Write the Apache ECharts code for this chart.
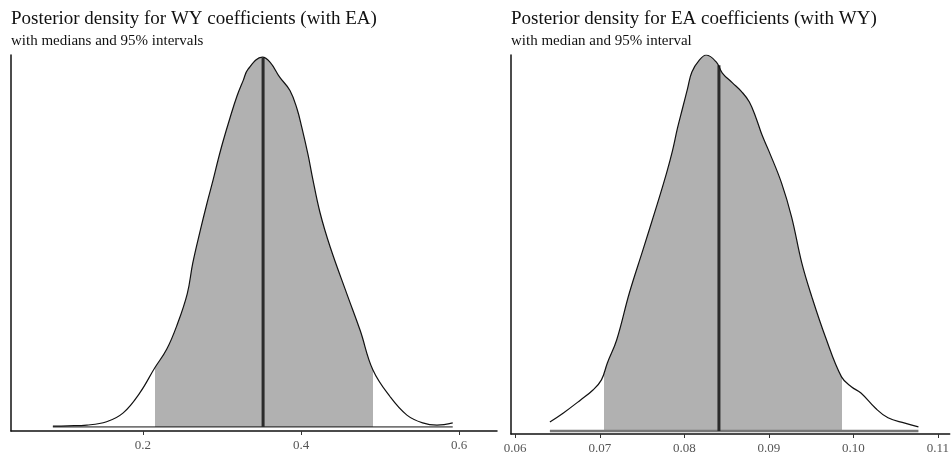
<!DOCTYPE html>
<html>
<head>
<meta charset="utf-8">
<title>Posterior densities</title>
<script src="https://cdn.jsdelivr.net/npm/echarts@6/dist/echarts.min.js"></script>
<style>
  html, body { margin: 0; padding: 0; background: #fff; }
  #chart { width: 952px; height: 457px; }
</style>
</head>
<body>
<div id="chart"></div>
<script>
// ==== DATA (relative density, peak = 100) ====
const wyX = [0.086, 0.105, 0.129, 0.154, 0.175, 0.196, 0.215, 0.230, 0.243, 0.256,
  0.263, 0.272, 0.281, 0.289, 0.295, 0.301, 0.310, 0.319, 0.327, 0.333, 0.351,
  0.361, 0.373, 0.386, 0.395, 0.401, 0.409, 0.414, 0.424, 0.437, 0.458, 0.475,
  0.491, 0.513, 0.534, 0.554, 0.572, 0.592];
const wyDensity = [0.2, 0.3, 0.5, 1.4, 3.8, 9.2, 16, 21, 27.5, 36,
  44.3, 52.7, 60.5, 67, 72.2, 77, 83.5, 89.5, 93.8, 96.8, 100,
  98.6, 94.6, 91, 86, 81, 73.5, 68, 58, 48.6, 36, 26,
  15.4, 8.1, 3.2, 1.1, 0.5, 1.1];
const wyInterval = [0.215, 0.491];
const wyMedian = 0.352;
const wyMedianTop = 99.8;
const wyTicks = [0.2, 0.4, 0.6];

const eaX = [0.0641, 0.0657, 0.0677, 0.0692, 0.0702, 0.0709, 0.0720, 0.0735, 0.0751,
  0.0767, 0.0779, 0.0786, 0.0792, 0.0798, 0.0804, 0.0809, 0.0818, 0.0826, 0.0838,
  0.0845, 0.0857, 0.0868, 0.0877, 0.0885, 0.0892, 0.0900, 0.0915, 0.0927, 0.0939,
  0.0951, 0.0967, 0.0986, 0.0998, 0.1009, 0.1026, 0.1041, 0.1061, 0.1077];
const eaDensity = [2.4, 4.8, 8.2, 10.9, 13.6, 18.1, 24.2, 36.7, 48.1,
  59.6, 68.6, 74.5, 80.6, 85.9, 91.2, 95.5, 98.7, 100, 98.1,
  95.2, 92.6, 90.2, 87.5, 83.2, 78.7, 74.5, 66.0, 56.9, 44.7,
  35.6, 25.0, 14.4, 11.7, 10.1, 6.1, 3.5, 2.1, 1.1];
const eaInterval = [0.0705, 0.0986];
const eaMedian = 0.0841;
const eaMedianTop = 97.3;
const eaTicks = [0.06, 0.07, 0.08, 0.09, 0.10, 0.11];

const titles = [
  { text: "Posterior density for WY coefficients (with EA)", sub: "with medians and 95% intervals" },
  { text: "Posterior density for EA coefficients (with WY)", sub: "with median and 95% interval" },
];

// ==== HELPERS ====
const FONT = "Liberation Serif";
const SHADE = "#b1b1b1";

function pairs(xs, ys) {
  return xs.map(function (x, i) {
    return [x, ys[i]];
  });
}

function xAxisFor(gridIndex, min, max, ticks, fmt) {
  return {
    type: "value",
    gridIndex: gridIndex,
    min: min,
    max: max,
    splitLine: { show: false },
    axisLine: { onZero: false, lineStyle: { color: "#111", width: 1.5 } },
    axisTick: { customValues: ticks, length: 4, lineStyle: { color: "#333" } },
    axisLabel: {
      customValues: ticks,
      formatter: fmt,
      fontFamily: FONT,
      fontSize: 13,
      color: "#555",
      margin: 8,
    },
  };
}

function yAxisFor(gridIndex, min, max) {
  return {
    type: "value",
    gridIndex: gridIndex,
    min: min,
    max: max,
    splitLine: { show: false },
    axisLine: { show: true, lineStyle: { color: "#111", width: 1.5 } },
    axisTick: { show: false },
    axisLabel: { show: false },
  };
}

function densitySeries(idx, xs, ys, med, medTop, baseColor, baseWidth) {
  const pts = pairs(xs, ys);
  const first = xs[0];
  const last = xs[xs.length - 1];
  return [
    {
      // shaded 95% interval (coloured through visualMap)
      type: "line",
      xAxisIndex: idx,
      yAxisIndex: idx,
      data: pts,
      smooth: 0.4,
      symbol: "none",
      lineStyle: { width: 0, opacity: 0 },
      areaStyle: { opacity: 1 },
      silent: true,
      z: 1,
    },
    {
      // density zero line
      type: "line",
      xAxisIndex: idx,
      yAxisIndex: idx,
      data: [[first, 0], [last, 0]],
      symbol: "none",
      lineStyle: { color: baseColor, width: baseWidth },
      silent: true,
      z: 2,
    },
    {
      // median
      type: "line",
      xAxisIndex: idx,
      yAxisIndex: idx,
      data: [[med, 0], [med, medTop]],
      symbol: "none",
      lineStyle: { color: "#2b2b2b", width: 3 },
      silent: true,
      z: 3,
    },
    {
      // density curve
      type: "line",
      xAxisIndex: idx,
      yAxisIndex: idx,
      data: pts,
      smooth: 0.4,
      symbol: "none",
      lineStyle: { color: "#111", width: 1.2 },
      silent: true,
      z: 4,
    },
  ];
}

// ==== CHART ====
const chart = echarts.init(document.getElementById("chart"), null, { renderer: "canvas" });

const series = []
  .concat(densitySeries(0, wyX, wyDensity, wyMedian, wyMedianTop, "#111", 1))
  .concat(densitySeries(1, eaX, eaDensity, eaMedian, eaMedianTop, "#777", 2.5));

chart.setOption({
  animation: false,
  backgroundColor: "#fff",
  title: titles.map(function (t, i) {
    return {
      text: t.text,
      subtext: t.sub,
      left: i === 0 ? 6 : 506,
      top: 5,
      itemGap: 5,
      textStyle: { fontFamily: FONT, fontSize: 19, fontWeight: "normal", color: "#111" },
      subtextStyle: { fontFamily: FONT, fontSize: 15, color: "#111" },
    };
  }),
  grid: [
    { left: 11, right: 455, top: 55, bottom: 26 },
    { left: 511, right: 0, top: 55, bottom: 23 },
  ],
  xAxis: [
    xAxisFor(0, 0.033, 0.648, wyTicks, function (v) { return v.toFixed(1); }),
    xAxisFor(1, 0.0595, 0.1114, eaTicks, function (v) { return v.toFixed(2); }),
  ],
  yAxis: [yAxisFor(0, -1.1, 100.6), yAxisFor(1, -0.8, 100)],
  visualMap: [
    {
      show: false,
      type: "piecewise",
      seriesIndex: 0,
      dimension: 0,
      pieces: [{ gte: wyInterval[0], lte: wyInterval[1], color: SHADE }],
      outOfRange: { color: "rgba(255,255,255,0)" },
    },
    {
      show: false,
      type: "piecewise",
      seriesIndex: 4,
      dimension: 0,
      pieces: [{ gte: eaInterval[0], lte: eaInterval[1], color: SHADE }],
      outOfRange: { color: "rgba(255,255,255,0)" },
    },
  ],
  series: series,
});
</script>
</body>
</html>
